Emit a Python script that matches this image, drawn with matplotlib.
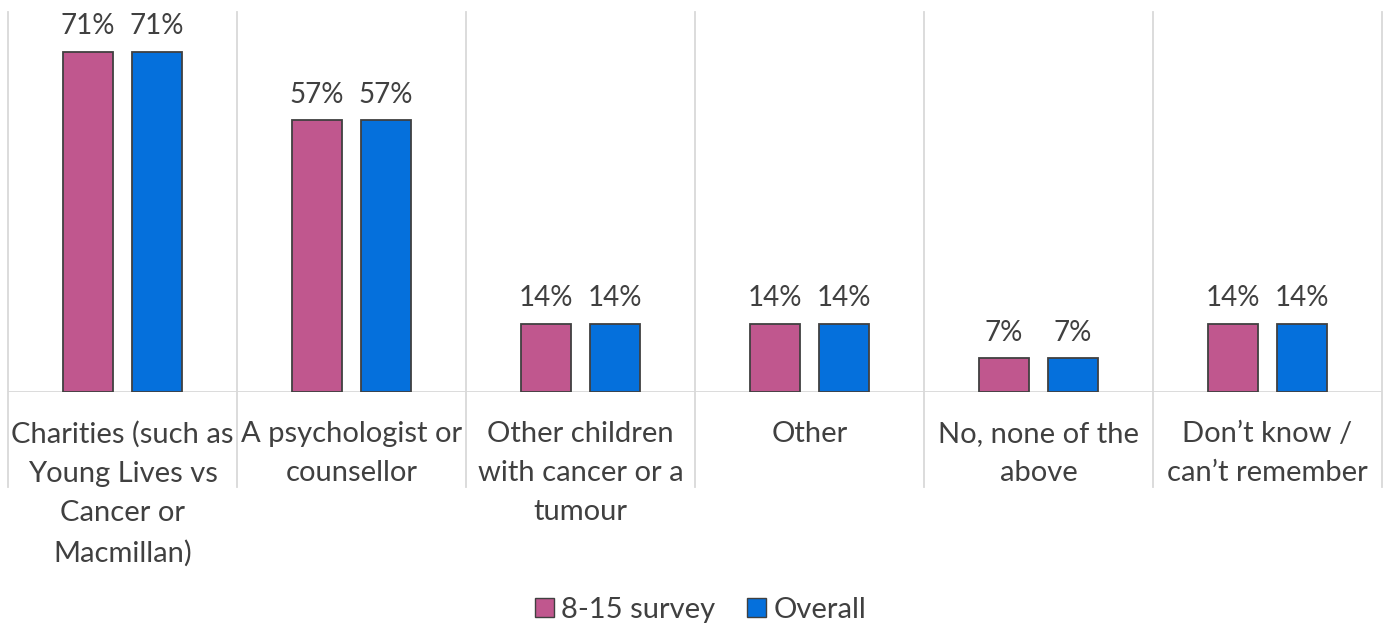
import numpy as np
import matplotlib.pyplot as plt
from matplotlib.patches import Patch

plt.rcParams["font.family"] = ["Lato", "DejaVu Sans"]

categories = [
    "Charities (such as\nYoung Lives vs\nCancer or\nMacmillan)",
    "A psychologist or\ncounsellor",
    "Other children\nwith cancer or a\ntumour",
    "Other",
    "No, none of the\nabove",
    "Don\u2019t know /\ncan\u2019t remember",
]
survey_8_15 = [71.4, 57.1, 14.3, 14.3, 7.1, 14.3]
overall = [71.4, 57.1, 14.3, 14.3, 7.1, 14.3]
series_names = ["8-15 survey", "Overall"]

PINK = "#C0578E"
BLUE = "#0570DC"
EDGE = "#404040"
GRID = "#D9D9D9"
TEXT = "#404040"

fig = plt.figure(figsize=(13.87, 6.23), dpi=100)
ax = fig.add_axes([8 / 1387, 231 / 623, 1374 / 1387, 380 / 623])

x = np.arange(len(categories))
w = 0.218
off = 0.151
b1 = ax.bar(x - off, survey_8_15, w, color=PINK, edgecolor=EDGE, linewidth=1.3, zorder=3)
b2 = ax.bar(x + off, overall, w, color=BLUE, edgecolor=EDGE, linewidth=1.3, zorder=3)

for bars, vals in ((b1, survey_8_15), (b2, overall)):
    for r, v in zip(bars, vals):
        ax.annotate(f"{v:.0f}%", (r.get_x() + r.get_width() / 2, v),
                    xytext=(0, 9), textcoords="offset points",
                    ha="center", va="bottom", fontsize=20, color=TEXT)

ax.set_xlim(-0.5, len(categories) - 0.5)
ax.set_ylim(0, 79.8)

# category separators, extended down through the label area
trans = ax.get_xaxis_transform()
for xb in np.arange(len(categories) + 1) - 0.5:
    ax.plot([xb, xb], [-0.25, 1], transform=trans, color=GRID, lw=1.3,
            clip_on=False, zorder=1)
ax.axhline(0, color=GRID, lw=1.3, zorder=2)

for s in ax.spines.values():
    s.set_visible(False)
ax.set_yticks([])
ax.set_xticks(x)
ax.set_xticklabels(categories, fontsize=21, color=TEXT, linespacing=1.62)
ax.tick_params(axis="x", length=0, pad=21)

handles = [Patch(facecolor=PINK, edgecolor=EDGE, label=series_names[0]),
           Patch(facecolor=BLUE, edgecolor=EDGE, label=series_names[1])]
fig.legend(handles=handles, loc="lower center", bbox_to_anchor=(0.505, -0.042), ncol=2,
           frameon=False, fontsize=21, handlelength=0.65, handleheight=0.65,
           handletextpad=0.25, columnspacing=1.1, labelcolor=TEXT)

fig.savefig("out.png", dpi=100)
